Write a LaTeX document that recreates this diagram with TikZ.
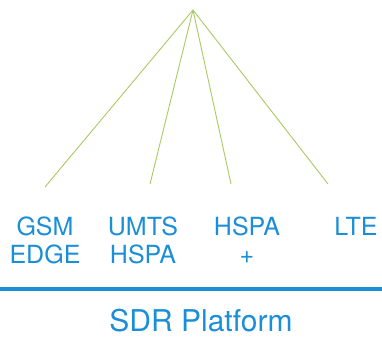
\documentclass[tikz,border=0pt]{standalone}
\usepackage{fontspec}
\setmainfont{TeX Gyre Heros}
\usetikzlibrary{positioning}
\definecolor{sdrblue}{HTML}{1A8ED6}
\definecolor{linkgreen}{HTML}{A9C962}

\begin{document}
\begin{tikzpicture}[
			x=1pt, y=-1pt,
			% Styles
			tech/.style={text=sdrblue, font=\fontsize{25}{28}\selectfont, align=center, inner sep=0pt, anchor=base},
			link/.style={draw=linkgreen, line width=0.9pt},
			platform/.style={draw=sdrblue, line width=3.5pt},
			title/.style={text=sdrblue, font=\fontsize{30}{34}\selectfont, inner sep=0pt, anchor=base}
			]
			\useasboundingbox (0,0) rectangle (382,337);
			
			% --- 1. Common root ---
			\coordinate (root) at (193,10);
			
			% Link ends
			\coordinate (gsmTop) at (45,187);
			\coordinate (umtsTop) at (150,184);
			\coordinate (hspaTop) at (231,184);
			\coordinate (lteTop) at (328,184);
			
			\draw[link] (root) -- (gsmTop);
			\draw[link] (root) -- (umtsTop);
			\draw[link] (root) -- (hspaTop);
			\draw[link] (root) -- (lteTop);
			
			% --- 2. Radio technologies ---
			% (base = baseline of the last line)
			\node[tech] (gsm) at (45,263) {GSM\\EDGE};
			\node[tech] (umts) at (143,263) {UMTS\\HSPA};
			\node[tech] (hspa) at (247,263) {HSPA\\+};
			\node[tech] (lte) at (356,235) {LTE};
			
			% --- 3. Platform ---
			\coordinate (barL) at (0,289);
			\coordinate (barR) at (382,289);
			\draw[platform] (barL) -- (barR);
			
			\node[title] (sdr) at (201,331) {SDR Platform};
			
		\end{tikzpicture}
\end{document}
